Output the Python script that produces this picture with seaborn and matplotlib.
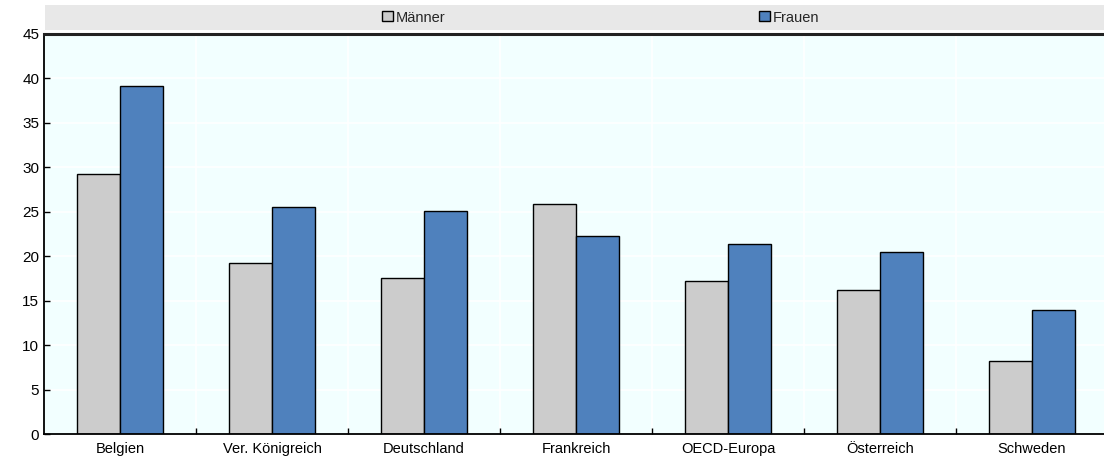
import matplotlib
matplotlib.use("Agg")
import matplotlib.pyplot as plt
import seaborn as sns
import pandas as pd
from matplotlib.patches import Rectangle

categories = ["Belgien", "Ver. Königreich", "Deutschland", "Frankreich",
              "OECD-Europa", "Österreich", "Schweden"]
maenner = [29.2, 19.2, 17.5, 25.9, 17.2, 16.2, 8.2]
frauen = [39.2, 25.5, 25.1, 22.3, 21.4, 20.5, 14.0]
series_names = ["Männer", "Frauen"]
yticks = [0, 5, 10, 15, 20, 25, 30, 35, 40, 45]

df = pd.DataFrame({
    "Land": categories * 2,
    "Wert": maenner + frauen,
    "Serie": [series_names[0]] * len(categories) + [series_names[1]] * len(categories),
})

sns.set_theme(style="white")
plt.rcParams["font.family"] = ["Liberation Sans", "DejaVu Sans"]

fig = plt.figure(figsize=(11.04, 4.61), dpi=100)
W, H = 1104, 461
ax = fig.add_axes([44 / W, 1 - 434 / H, (1108 - 44) / W, (434 - 34) / H])

sns.barplot(data=df, x="Land", y="Wert", hue="Serie", order=categories,
            hue_order=series_names, palette=["#cccccc", "#4f81bd"],
            saturation=1, edgecolor="black", linewidth=1.0, width=0.57,
            gap=0, ax=ax, legend=True)

ax.set_facecolor("#f2ffff")
ax.set_ylim(0, 45)
ax.set_xlim(-0.5, len(categories) - 0.5)
ax.set_yticks(yticks)
ax.set_xlabel("")
ax.set_ylabel("")

# grid lines
for y in yticks[1:-1]:
    ax.axhline(y, color="white", lw=1.2, zorder=0.5)
for i in range(1, len(categories)):
    ax.axvline(i - 0.5, color="white", lw=1.2, zorder=0.5)

ax.set_xticks([i - 0.5 for i in range(1, len(categories))], minor=True)
ax.set_xticks(range(len(categories)))
ax.set_xticklabels(categories)
ax.tick_params(axis="x", which="major", length=0, labelsize=10.5, pad=6, colors="black")
ax.tick_params(axis="x", which="minor", length=4, direction="in", width=1, colors="black", bottom=True)
ax.tick_params(axis="y", length=4, direction="in", width=1, labelsize=11, colors="black", left=True)

for s in ["left", "bottom"]:
    ax.spines[s].set_visible(True)
    ax.spines[s].set_color("black")
    ax.spines[s].set_linewidth(1.3)
ax.spines["right"].set_visible(False)
ax.spines["top"].set_visible(True)
ax.spines["top"].set_color("#222222")
ax.spines["top"].set_linewidth(2.2)

# legend band
fig.patches.append(Rectangle((45 / W, 1 - 30 / H), (1104 - 45) / W, 25 / H,
                             transform=fig.transFigure, facecolor="#e8e8e8",
                             edgecolor="none", zorder=0))
handles, labels = ax.get_legend_handles_labels()
ax.get_legend().remove()
leg = fig.legend(handles, labels, loc="center", ncol=2, frameon=False,
                 bbox_to_anchor=(601 / W, 1 - 17.5 / H), fontsize=10.5,
                 handlelength=0.7, handleheight=0.7, handletextpad=0.25,
                 columnspacing=21.5)
for h in leg.legend_handles:
    h.set_edgecolor("black")
    h.set_linewidth(1.0)

fig.savefig("out.png", dpi=100)
